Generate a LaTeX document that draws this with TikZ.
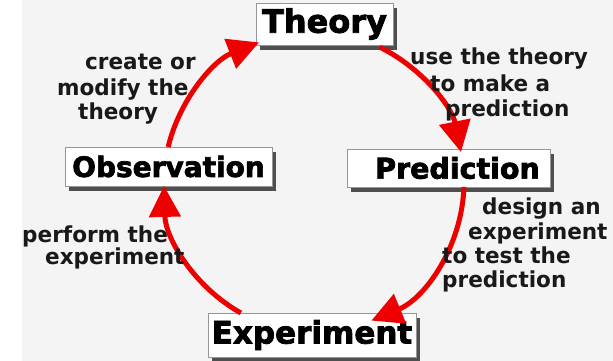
\documentclass[tikz,border=0pt]{standalone}
\usepackage{fontspec}
\usetikzlibrary{arrows.meta,shadows,calc}
\newfontfamily\boxfont[FakeBold=2.5]{DejaVu Sans Bold}
\newfontfamily\comicfont[FakeStretch=0.98]{DejaVu Sans Bold}
\definecolor{bggray}{RGB}{244,244,244}
\definecolor{cyclered}{RGB}{238,0,0}
\definecolor{boxedge}{RGB}{150,150,150}
\tikzset{
  stagebox/.style={draw=boxedge, line width=0.6pt, fill=white, inner sep=0pt,
    drop shadow={shadow xshift=4pt, shadow yshift=-5pt, fill=black!80, opacity=0.85},
    font=\boxfont},
  cyclearrow/.style={draw=cyclered, line width=5pt,
    -{Triangle[length=31pt,width=31pt]}},
  note/.style={anchor=mid west, inner sep=0pt, text=black!90,
    font=\comicfont\fontsize{22pt}{26pt}\selectfont}
}
\begin{document}
\begin{tikzpicture}[x=1pt,y=1pt]
\useasboundingbox (0,0) rectangle (613,361);
\fill[white] (0,0) rectangle (613,361);
\fill[bggray] (22,0) rectangle (613,361);

% stage boxes
\node[stagebox, minimum width=137pt, minimum height=42pt,
  font=\boxfont\fontsize{32pt}{34pt}\selectfont] (theory) at (324.5,337) {Theory};
\node[stagebox, minimum width=207pt, minimum height=39pt,
  font=\boxfont\fontsize{28pt}{30pt}\selectfont] (obs) at (168.5,194.5) {Observation};
\node[stagebox, minimum width=203pt, minimum height=38pt,
  font=\boxfont\fontsize{28.5pt}{30pt}\selectfont] (pred) at (448.5,193) {\hspace*{18pt}Prediction};
\node[stagebox, minimum width=208pt, minimum height=44pt,
  font=\boxfont\fontsize{31pt}{33pt}\selectfont] (exp) at (312,26) {Experiment};

% cycle centre
\coordinate (c) at (314,179);

% arrows
\draw[cyclearrow] ($(c)+(166.5:150pt)$) arc[start angle=166.5, end angle=111.5, radius=150pt];
\draw[cyclearrow] ($(c)+(64:150pt)$) arc[start angle=64, end angle=11.5, radius=150pt];
\draw[cyclearrow] ($(c)+(-1.9:150pt)$) arc[start angle=-1.9, end angle=-67.5, radius=150pt];
\draw[cyclearrow] ($(c)+(-119.2:150pt)$) arc[start angle=-119.2, end angle=-178.5, radius=150pt];

% notes
\node[note] (n1a) at (85,294) {create or};
\node[note] (n1b) at (57,268) {modify the};
\node[note] (n1c) at (78,244) {theory};

\node[note] (n2a) at (410,299) {use the theory};
\node[note] (n2b) at (430,272) {to make a};
\node[note] (n2c) at (445,247) {prediction};

\node[note] (n3a) at (482,149) {design an};
\node[note] (n3b) at (468,124) {experiment};
\node[note] (n3c) at (442,100) {to test the};
\node[note] (n3d) at (442,76) {prediction};

\node[note] (n4a) at (22,121) {perform the};
\node[note] (n4b) at (45,99) {experiment};
\end{tikzpicture}
\end{document}
